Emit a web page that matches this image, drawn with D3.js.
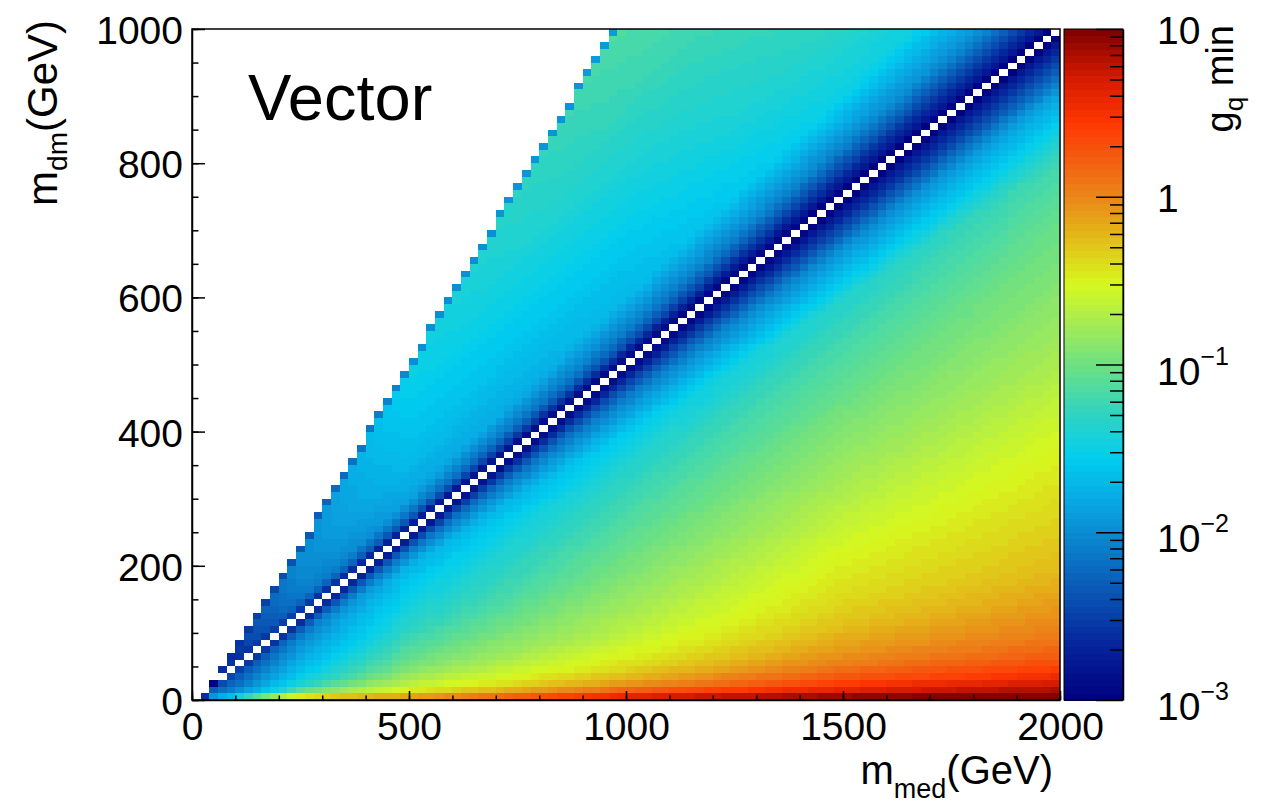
<!DOCTYPE html>
<html lang="en">
<head>
<meta charset="UTF-8">
<title>Vector g_q min</title>
<script src="https://d3js.org/d3.v7.min.js"></script>
<style>
  body { margin: 0; background: #fff; }
  svg { display: block; font-family: "Liberation Sans", Arial, sans-serif; }
</style>
</head>
<body>
<svg width="1284" height="806"></svg>
<script>
// log10(g_q min), per mediator mass column, along the ratio m_dm/m_med
const medColumns = [100, 250, 500, 1000, 1500, 2000];
const ratioRows = [0.0025, 0.005, 0.01, 0.02, 0.035, 0.05, 0.075, 0.1, 0.15, 0.2, 0.25, 0.3, 0.35,
                   0.4, 0.45, 0.47, 0.49, 0.5, 0.51, 0.53, 0.55, 0.6, 0.7, 0.8, 0.9, 1.1];
const logG100  = [0.0, -0.3, -0.6, -1.0, -1.3, -1.6, -1.8, -1.95, -2.05, -2.15, -2.25, -2.3, -2.4,
                  -2.5, -2.7, -2.85, -3.0, -3.2, -3.0, -2.85, -2.7, -2.6, -2.55, -2.5, -2.5, -2.5];
const logG250  = [0.15, 0.0, -0.2, -0.45, -0.8, -1.0, -1.25, -1.42, -1.58, -1.7, -1.8, -1.9, -2.0,
                  -2.15, -2.5, -2.7, -3.0, -3.2, -3.0, -2.65, -2.4, -2.15, -2.05, -2.0, -2.0, -2.0];
const logG500  = [0.0, -0.08, -0.15, -0.35, -0.55, -0.67, -0.82, -0.95, -1.13, -1.28, -1.4, -1.5, -1.6,
                  -1.75, -2.2, -2.55, -2.95, -3.2, -2.95, -2.5, -2.2, -1.85, -1.7, -1.62, -1.55, -1.45];
const logG1000 = [0.75, 0.6, 0.35, 0.0, -0.25, -0.4, -0.55, -0.66, -0.82, -0.97, -1.1, -1.23, -1.38,
                  -1.6, -2.1, -2.45, -2.9, -3.2, -2.9, -2.4, -2.1, -1.7, -1.55, -1.4, -1.25, -1.05];
const logG1500 = [0.95, 0.85, 0.62, 0.32, 0.05, -0.1, -0.27, -0.38, -0.53, -0.7, -0.86, -1.02, -1.17,
                  -1.38, -2.0, -2.45, -2.85, -3.2, -2.85, -2.45, -2.05, -1.5, -1.25, -1.1, -1.0, -0.95];
const logG2000 = [1.05, 0.92, 0.78, 0.45, 0.2, 0.05, -0.12, -0.25, -0.4, -0.55, -0.73, -0.88, -1.02,
                  -1.2, -1.8, -2.3, -2.8, -3.2, -2.8, -2.3, -1.9, -1.45, -1.2, -1.1, -1.0, -0.95];

// upper-left edge of the filled region (highest m_dm per m_med) and the darker top cells
const edgeMed = [10, 90, 170, 450, 970, 1990];
const edgeDm  = [-5, 65, 145, 450, 1000, 2080];
const edgeValMed = [100, 250, 500, 1000, 2000];
const edgeVal    = [-2.6, -2.35, -2.0, -1.9, -1.8];

const xTicks = [0, 500, 1000, 1500, 2000];
const yTicks = [0, 200, 400, 600, 800, 1000];
const zTickValues = [1e-3, 1e-2, 1e-1, 1, 10];
const zTickLabels = [["10", "\u22123"], ["10", "\u22122"], ["10", "\u22121"], ["1", ""], ["10", ""]];

// palette (fraction of the log z range -> colour)
const stopT = [0, 0.08, 0.16, 0.25, 0.30, 0.36, 0.43, 0.50, 0.56, 0.62, 0.68, 0.75, 0.81, 0.86, 0.93, 1];
const stopC = ["#000080", "#05239a", "#0a55b4", "#0a8cd2", "#08aae4", "#00cdf0", "#32d4be", "#6ee182",
               "#a5eb55", "#d7f81e", "#e1c319", "#eb8719", "#f55a0f", "#ff3700", "#d21900", "#7d0000"];

const svg = d3.select("svg");
const plotLeft = 192, plotRight = 1060, plotTop = 29, plotBottom = 700;

const x = d3.scaleLinear().domain([0, 2000]).range([plotLeft, plotRight]);
const y = d3.scaleLinear().domain([0, 1000]).range([plotBottom, plotTop]);
const z = d3.scaleLog().domain([1e-3, 10]).range([plotBottom, plotTop]);

const palette = d3.scaleLinear().domain(stopT).range(stopC).interpolate(d3.interpolateRgb);
const nLevels = 100;
function colorOf(logv) {
  let t = (logv + 3) / 4;
  t = Math.max(0, Math.min(0.9999, t));
  return palette((Math.floor(t * nLevels) + 0.5) / nLevels);
}

const ratioScales = [logG100, logG250, logG500, logG1000, logG1500, logG2000]
  .map(vals => d3.scaleLinear().domain(ratioRows).range(vals).clamp(true));
const edgeTop = d3.scaleLinear().domain(edgeMed).range(edgeDm);
const edgeLevel = d3.scaleLinear().domain(edgeValMed).range(edgeVal).clamp(true);

// 20 GeV x 10 GeV bins
const cells = [];
for (let i = 0; i < 100; i++) {
  const m = 20 * i + 10;
  const topDm = edgeTop(m);
  for (let j = 0; j < 100; j++) {
    const dm = 10 * j + 5;
    if (dm > topDm) break;
    if (i === j && i >= 3) continue; // resonance bins are empty
    const r = dm / m;
    const cols = ratioScales.map(s => s(r));
    let v = d3.scaleLinear().domain(medColumns).range(cols).clamp(true)(m);
    if (dm + 10 > topDm) v = Math.min(v, edgeLevel(m));
    cells.push({m, dm, v});
  }
}

svg.append("g")
  .attr("shape-rendering", "crispEdges")
  .selectAll("rect")
  .data(cells)
  .join("rect")
  .attr("x", d => x(d.m - 10))
  .attr("width", d => x(d.m + 10) - x(d.m - 10))
  .attr("y", d => y(d.dm + 5))
  .attr("height", d => y(d.dm - 5) - y(d.dm + 5))
  .attr("fill", d => colorOf(d.v));

// frame
svg.append("rect")
  .attr("x", plotLeft).attr("y", plotTop)
  .attr("width", plotRight - plotLeft).attr("height", plotBottom - plotTop)
  .attr("fill", "none").attr("stroke", "#000").attr("stroke-width", 1.5);

// x axis
const xAxisG = svg.append("g").attr("transform", `translate(0,${plotBottom})`);
xAxisG.call(d3.axisBottom(x).tickValues(d3.range(0, 2001, 100)).tickSize(-4.5).tickFormat("").tickSizeOuter(0))
  .call(g => g.select(".domain").remove());
xAxisG.append("g")
  .call(d3.axisBottom(x).tickValues(xTicks).tickSize(-9).tickPadding(12).tickSizeOuter(0).tickFormat(d3.format("d")))
  .call(g => g.select(".domain").attr("stroke-width", 1.5))
  .call(g => g.selectAll("text").attr("font-size", 39).attr("fill", "#000"));
xAxisG.selectAll("line").attr("stroke", "#000").attr("stroke-width", 1.5);

// y axis
const yAxisG = svg.append("g").attr("transform", `translate(${plotLeft},0)`);
yAxisG.call(d3.axisLeft(y).tickValues(d3.range(0, 1001, 50)).tickSize(-6.5).tickFormat("").tickSizeOuter(0))
  .call(g => g.select(".domain").remove());
yAxisG.append("g")
  .call(d3.axisLeft(y).tickValues(yTicks).tickSize(-13).tickPadding(9).tickSizeOuter(0).tickFormat(d3.format("d")))
  .call(g => g.select(".domain").attr("stroke-width", 1.5))
  .call(g => g.selectAll("text").attr("font-size", 39).attr("dy", "0.37em").attr("fill", "#000"));
yAxisG.selectAll("line").attr("stroke", "#000").attr("stroke-width", 1.5);
svg.selectAll("g").attr("font-family", null);

// axis titles
const yTitle = svg.append("text")
  .attr("transform", "translate(57,20) rotate(-90)")
  .attr("text-anchor", "end").attr("font-size", 42);
yTitle.append("tspan").text("m");
yTitle.append("tspan").attr("font-size", 28).attr("dy", 10).text("dm");
yTitle.append("tspan").attr("dy", -10).text("(GeV)");

const xTitle = svg.append("text")
  .attr("x", 1053).attr("y", 784)
  .attr("text-anchor", "end").attr("font-size", 40);
xTitle.append("tspan").text("m");
xTitle.append("tspan").attr("font-size", 27).attr("dy", 14).text("med");
xTitle.append("tspan").attr("dy", -14).text("(GeV)");

// label inside the frame
svg.append("text")
  .attr("x", 248).attr("y", 120)
  .attr("font-size", 65)
  .text("Vector");

// colour bar
const cbLeft = 1064, cbRight = 1123;
const bands = d3.range(nLevels);
svg.append("g")
  .attr("shape-rendering", "crispEdges")
  .selectAll("rect")
  .data(bands)
  .join("rect")
  .attr("x", cbLeft)
  .attr("width", cbRight - cbLeft)
  .attr("y", k => z(Math.pow(10, -3 + 4 * (k + 1) / nLevels)))
  .attr("height", k => z(Math.pow(10, -3 + 4 * k / nLevels)) - z(Math.pow(10, -3 + 4 * (k + 1) / nLevels)) + 0.5)
  .attr("fill", k => palette((k + 0.5) / nLevels));

svg.append("rect")
  .attr("x", cbLeft).attr("y", plotTop)
  .attr("width", cbRight - cbLeft).attr("height", plotBottom - plotTop)
  .attr("fill", "none").attr("stroke", "#000").attr("stroke-width", 1);

const minorZ = [];
[1e-3, 1e-2, 1e-1, 1].forEach(dec => d3.range(2, 10).forEach(k => minorZ.push(dec * k)));

const zAxisG = svg.append("g").attr("transform", `translate(${cbRight},0)`);
zAxisG.call(d3.axisRight(z).tickValues(minorZ).tickSize(-13).tickFormat("").tickSizeOuter(0))
  .call(g => g.select(".domain").remove());
zAxisG.append("g")
  .call(d3.axisRight(z).tickValues(zTickValues).tickSize(-27).tickFormat("").tickSizeOuter(0))
  .call(g => g.select(".domain").attr("stroke-width", 1.5));
zAxisG.selectAll("line").attr("stroke", "#000").attr("stroke-width", 1.5);

zTickValues.forEach((v, k) => {
  const [base, exp] = zTickLabels[k];
  const t = svg.append("text")
    .attr("x", 1157)
    .attr("y", z(v) + (exp ? 20 : 15))
    .attr("font-size", 39);
  t.append("tspan").text(base);
  if (exp) t.append("tspan").attr("font-size", 25).attr("dy", -20).text(exp);
});

const zTitle = svg.append("text")
  .attr("transform", "translate(1233,25) rotate(-90)")
  .attr("text-anchor", "end").attr("font-size", 38);
zTitle.append("tspan").text("g");
zTitle.append("tspan").attr("font-size", 26).attr("dy", 10).text("q");
zTitle.append("tspan").attr("dy", -10).text(" min");
</script>
</body>
</html>
